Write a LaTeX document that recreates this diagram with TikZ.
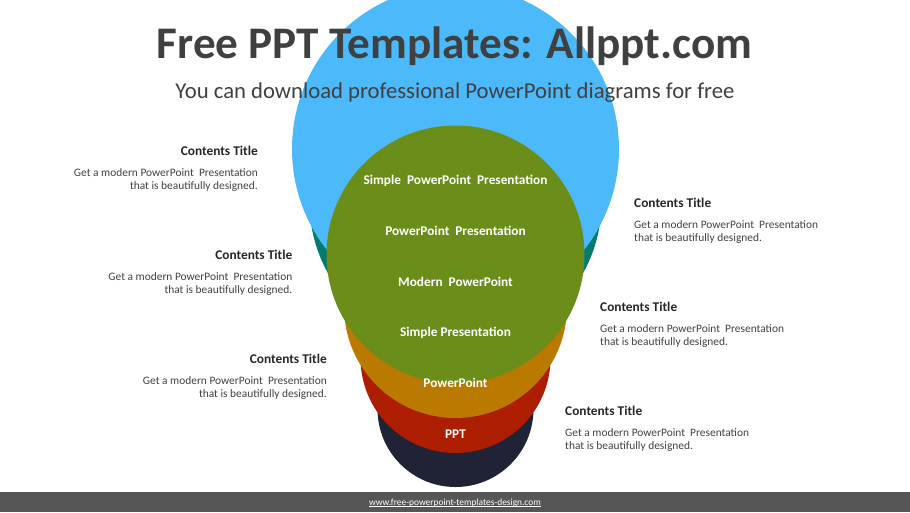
\documentclass[tikz,border=0pt]{standalone}
\usepackage{fontspec}
\setmainfont{Carlito}
\definecolor{cblue}{HTML}{4CB9FB}
\definecolor{cteal}{HTML}{007B72}
\definecolor{cgreen}{HTML}{6B8E1A}
\definecolor{corange}{HTML}{BA7A00}
\definecolor{cred}{HTML}{AD1D00}
\definecolor{cnavy}{HTML}{202236}
\definecolor{cbar}{HTML}{565656}
\definecolor{ctext}{HTML}{404040}
\definecolor{chead}{HTML}{262626}
\newlength\urlwd
\tikzset{
  x=1pt,y=-1pt,
  inlabel/.style={text=white,font=\fontsize{13.3}{15}\selectfont\bfseries,inner sep=0pt,anchor=center},
  headl/.style={text=chead,font=\fontsize{13.35}{16}\selectfont\bfseries,inner sep=0pt},
  bodyt/.style={text=ctext,font=\fontsize{11.4}{13.6}\selectfont,inner sep=0pt},
}
\begin{document}
\begin{tikzpicture}
\useasboundingbox (0,0) rectangle (910,512);
\clip (0,0) rectangle (910,512);
\fill[cnavy] (455.5,409) circle[radius=78];
\fill[cred] (455.5,358) circle[radius=95];
\fill[corange] (455.5,306.5) circle[radius=111.5];
\fill[cteal] (455.5,202) circle[radius=146];
\fill[cblue] (455.5,149) circle[radius=163.5];
\fill[cgreen] (455.5,254.5) circle[radius=129];
\fill[cbar] (0,492) rectangle (910,512);
\node[text=ctext,font=\fontsize{45.2}{50}\selectfont\bfseries,inner sep=0pt] (title) at (454.5,46) {Free PPT Templates: Allppt.com};
\node[text=ctext,font=\fontsize{22.7}{28}\selectfont,inner sep=0pt] (sub) at (455,93) {You can download professional PowerPoint diagrams for free};
\node[inlabel] (l1) at (455.5,180.5) {Simple\ \ PowerPoint\ \ Presentation};
\node[inlabel] (l2) at (455.5,231) {PowerPoint\ \ Presentation};
\node[inlabel] (l3) at (455.5,282) {Modern\ \ PowerPoint};
\node[inlabel] (l4) at (455.5,333) {Simple Presentation};
\node[inlabel] (l5) at (455.5,383) {PowerPoint};
\node[inlabel] (l6) at (455.5,434) {PPT};
\node[headl,anchor=east] (ha) at (258,150.5) {Contents Title};
\node[bodyt,anchor=north east,align=right] (ba) at (258,168) {Get a modern PowerPoint\ \ Presentation\\that is beautifully designed.};
\node[headl,anchor=east] (hb) at (292.5,254.5) {Contents Title};
\node[bodyt,anchor=north east,align=right] (bb) at (292.5,272) {Get a modern PowerPoint\ \ Presentation\\that is beautifully designed.};
\node[headl,anchor=east] (hc) at (327,358.5) {Contents Title};
\node[bodyt,anchor=north east,align=right] (bc) at (327,376) {Get a modern PowerPoint\ \ Presentation\\that is beautifully designed.};
\node[headl,anchor=west] (hd) at (634,202.5) {Contents Title};
\node[bodyt,anchor=north west,align=left] (bd) at (634,220) {Get a modern PowerPoint\ \ Presentation\\that is beautifully designed.};
\node[headl,anchor=west] (he) at (600,306.5) {Contents Title};
\node[bodyt,anchor=north west,align=left] (be) at (600,324) {Get a modern PowerPoint\ \ Presentation\\that is beautifully designed.};
\node[headl,anchor=west] (hf) at (565,410.5) {Contents Title};
\node[bodyt,anchor=north west,align=left] (bf) at (565,428) {Get a modern PowerPoint\ \ Presentation\\that is beautifully designed.};
\node[text=white,font=\fontsize{9.4}{12}\selectfont,inner sep=0pt] (url) at (455,503) {\settowidth\urlwd{www.free-powerpoint-templates-design.com}\rlap{\rule[-1.3pt]{\urlwd}{0.5pt}}www.free-powerpoint-templates-design.com};
\end{tikzpicture}
\end{document}
